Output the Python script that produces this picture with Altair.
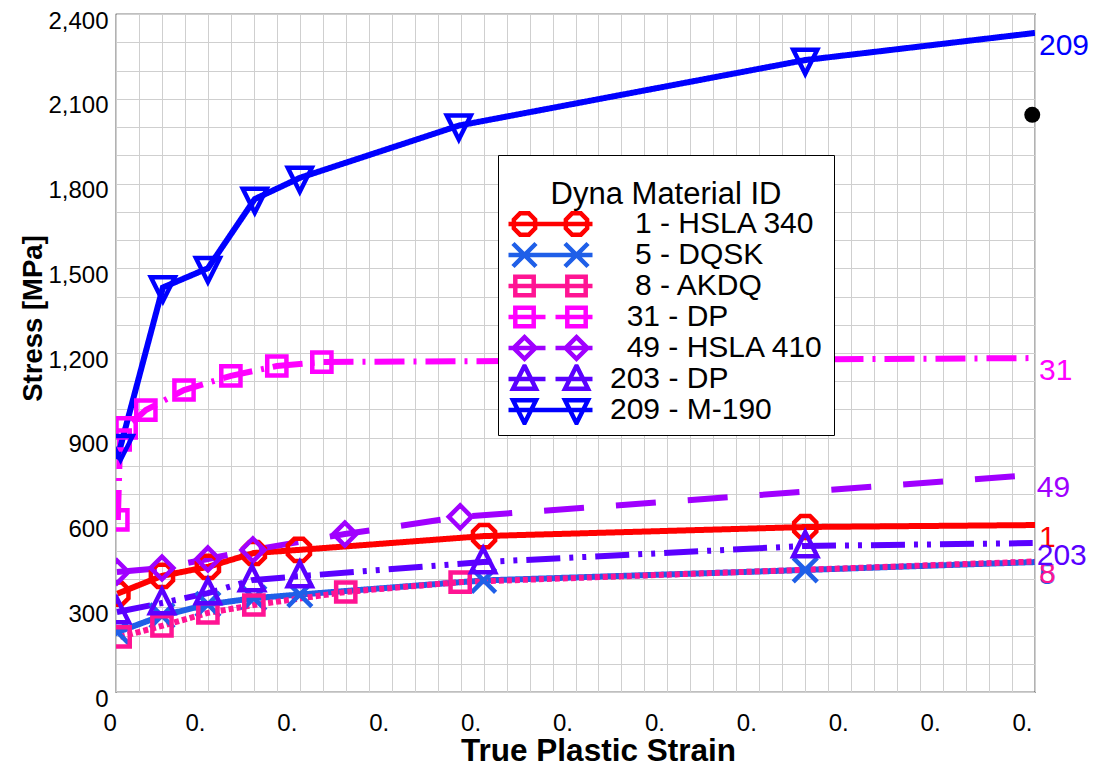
import altair as alt
import pandas as pd

# ---------------- data ----------------
XMAX = 0.2
YMAX = 2400

ids = ["1", "5", "8", "31", "49", "203", "209"]
names = ["1 - HSLA 340", "5 - DQSK", "8 - AKDQ", "31 - DP", "49 - HSLA 410", "203 - DP", "209 - M-190"]
colors = ["#FF0000", "#1F5FE8", "#FF1493", "#FF00FF", "#A000FF", "#5A00FF", "#0000FF"]

strain_1 = [0.0003, 0.01, 0.02, 0.03, 0.0398, 0.0801, 0.15, 0.2]
stress_1 = [348, 411, 443, 492, 503, 552, 584, 591]
mark_1 = [1, 1, 1, 1, 1, 1, 1, 0]

strain_5 = [0.0003, 0.01, 0.02, 0.03, 0.04, 0.08, 0.15, 0.2]
stress_5 = [212, 270, 310, 332, 345, 395, 432, 460]
mark_5 = [1, 1, 1, 1, 1, 1, 1, 0]

strain_8 = [0.0009, 0.01, 0.02, 0.03, 0.05, 0.0749, 0.2]
stress_8 = [195, 234, 280, 308, 354, 389, 462]
mark_8 = [1, 1, 1, 1, 1, 1, 0]

strain_31 = [0.0004, 0.0009, 0.0022, 0.0065, 0.0148, 0.025, 0.035, 0.0448, 0.2]
stress_31 = [609, 892, 935, 998, 1069, 1119, 1154, 1168, 1182]
mark_31 = [1, 1, 1, 1, 1, 1, 1, 1, 0]

strain_49 = [0.0002, 0.01, 0.02, 0.0298, 0.0498, 0.0749, 0.1995]
stress_49 = [425, 439, 471, 503, 559, 620, 768]
mark_49 = [1, 1, 1, 1, 1, 1, 0]

strain_203 = [0.0002, 0.01, 0.02, 0.0296, 0.04, 0.0799, 0.15, 0.1995]
stress_203 = [283, 315, 350, 396, 410, 460, 517, 527]
mark_203 = [1, 1, 1, 1, 1, 1, 1, 0]

strain_209 = [0.0, 0.001, 0.0102, 0.02, 0.0302, 0.04, 0.0746, 0.15, 0.2]
stress_209 = [825, 870, 1432, 1500, 1745, 1820, 2005, 2237, 2333]
mark_209 = [0, 1, 1, 1, 1, 1, 1, 1, 0]

dot_strain = [0.1994]
dot_stress = [2043]

all_strain = [strain_1, strain_5, strain_8, strain_31, strain_49, strain_203, strain_209]
all_stress = [stress_1, stress_5, stress_8, stress_31, stress_49, stress_203, stress_209]
all_mark = [mark_1, mark_5, mark_8, mark_31, mark_49, mark_203, mark_209]

rows = []
for sid, nm, xs, ys, ms in zip(ids, names, all_strain, all_stress, all_mark):
    for i, (x, y, m) in enumerate(zip(xs, ys, ms)):
        rows.append({"sid": sid, "name": nm, "strain": x, "stress": y,
                     "mark": m, "end": int(i == len(xs) - 1), "order": i})
df = pd.DataFrame(rows)
dot_df = pd.DataFrame({"strain": dot_strain, "stress": dot_stress})

# ---------------- styles ----------------
FONT = "Liberation Sans"
LW = 6
dashes = {"1": [1, 0], "5": [1, 0], "8": [5, 3], "31": [30, 9, 3, 9],
          "49": [40, 32], "203": [34, 9, 4, 9, 4, 9], "209": [1, 0]}

OCT = [(0.383, -0.924), (0.924, -0.383), (0.924, 0.383), (0.383, 0.924),
       (-0.383, 0.924), (-0.924, 0.383), (-0.924, -0.383), (-0.383, -0.924)]
SQR = [(-0.8, -0.8), (0.8, -0.8), (0.8, 0.8), (-0.8, 0.8)]
DIA = [(0, -0.95), (0.95, 0), (0, 0.95), (-0.95, 0)]
TUP = [(0, -1.15), (1.0, 0.85), (-1.0, 0.85)]
TDN = [(0, 1.15), (1.0, -0.85), (-1.0, -0.85)]
XSEG = [[(-1, -1), (1, 1)], [(-1, 1), (1, -1)]]


def poly(pts, s=1.0, dx=0.0):
    return "M" + "L".join(f"{x * s + dx:.3f},{y * s:.3f}" for x, y in pts) + "Z"


def segs(sg, s=1.0, dx=0.0):
    return "".join("M" + "L".join(f"{x * s + dx:.3f},{y * s:.3f}" for x, y in seg) for seg in sg)


def marker(kind, s=1.0, dx=0.0):
    if kind == "x":
        return segs(XSEG, s, dx)
    return poly({"oct": OCT, "sq": SQR, "dia": DIA, "tup": TUP, "tdn": TDN}[kind], s, dx)


kinds = {"1": "oct", "5": "x", "8": "sq", "31": "sq", "49": "dia", "203": "tup", "209": "tdn"}
MSIZE = 576  # marker radius 12 px

# legend symbols: line + two markers (px -> legend units)
LEG_SIZE = 784
lr = (LEG_SIZE ** 0.5) / 2.0
gap = {"31": True, "49": True, "203": True}


def leg_path(sid):
    u = 1.0 / lr
    if gap.get(sid):
        line = segs([[(-42, 0), (-5, 0)], [(5, 0), (42, 0)]], u)
    else:
        line = segs([[(-42, 0), (42, 0)]], u)
    m = 11.5 * u
    return line + marker(kinds[sid], m, -26 * u) + marker(kinds[sid], m, 26 * u)


leg_paths = [leg_path(s) for s in ids]

# ---------------- axes ----------------
xvals = [round(i * 0.005, 4) for i in range(41)]
yvals = list(range(0, 2401, 100))

xaxis = alt.Axis(
    values=xvals, grid=True, ticks=False, domain=False, gridColor="#CFCFCF", gridWidth=1,
    labelExpr="round(datum.value*200) % 4 == 0 ? (datum.value == 0 ? '0' : '0.') : ''",
    labelFontSize=24, labelFont=FONT, labelColor="black", labelPadding=19,
    labelBaseline="top", labelOffset=-13, labelFlush=False, labelOverlap=False,
    labelAlign={"condition": {"test": "datum.value == 0", "value": "left"}, "value": "center"},
    title="True Plastic Strain", titleFontSize=31.5, titleFont=FONT, titleFontWeight="bold",
    titleColor="black", titleX=482, titleY=68, titleAlign="center", titleBaseline="alphabetic",
)
yaxis = alt.Axis(
    values=yvals, grid=True, ticks=False, domain=False, gridColor="#CFCFCF", gridWidth=1,
    labelExpr="datum.value % 300 == 0 ? format(datum.value, ',') : ''",
    labelFontSize=24, labelFont=FONT, labelColor="black", labelPadding=8,
    labelOffset=7, labelOverlap=False, labelFlush=False,
    title="Stress [MPa]", titleFontSize=27.5, titleFont=FONT, titleFontWeight="bold",
    titleColor="black", titleX=-75, titleY=304, titleAngle=270, titleAlign="center",
    titleBaseline="alphabetic",
)

xenc = alt.X("strain:Q", scale=alt.Scale(domain=[0, XMAX], nice=False, zero=False), axis=xaxis)
yenc = alt.Y("stress:Q", scale=alt.Scale(domain=[0, YMAX], nice=False), axis=yaxis)

base = alt.Chart(df)
layers = []

# lines
for sid, c in zip(ids, colors):
    layers.append(
        base.transform_filter(alt.datum.sid == sid)
        .mark_line(color=c, strokeWidth=LW, strokeDash=dashes[sid], clip=True, strokeCap="butt")
        .encode(x=xenc, y=yenc, order="order:Q")
    )

# markers
for sid, c in zip(ids, colors):
    layers.append(
        base.transform_filter((alt.datum.sid == sid) & (alt.datum.mark == 1))
        .mark_point(shape=marker(kinds[sid]), size=MSIZE, filled=False, color=c,
                    strokeWidth=4.5, opacity=1, clip=True)
        .encode(x=xenc, y=yenc)
    )

# end labels
for sid, c in zip(ids, colors):
    layers.append(
        base.transform_filter((alt.datum.sid == sid) & (alt.datum.end == 1))
        .mark_text(align="left", baseline="top", dx=4, dy=-2, fontSize=30, font=FONT, color=c)
        .encode(x=xenc, y=yenc, text="sid:N")
    )

# black dot
layers.append(
    alt.Chart(dot_df).mark_circle(size=256, color="black", opacity=1)
    .encode(x=xenc, y=yenc)
)

# legend layer (no marks, only the legend)
PAD_EXPR = ("'\u200b' + (indexof(datum.label,' -')==1 ? '\u00a0\u00a0\u00a0' : "
            "indexof(datum.label,' -')==2 ? '\u00a0\u00a0' : '') + datum.label")
leg = alt.Legend(
    title="Dyna Material ID", orient="none", legendX=382, legendY=141,
    titleFontSize=31, titleFontWeight="normal", titleColor="black", titleFont=FONT,
    titleAnchor="middle", titlePadding=13.25, titleLimit=1000,
    titleBaseline="line-top", titleLineHeight=61,
    labelFontSize=30, labelFont=FONT, labelColor="black", labelLimit=1000,
    labelExpr=PAD_EXPR,
    labelOffset=43, symbolOffset=26, symbolSize=LEG_SIZE, symbolStrokeWidth=4.5,
    padding=10, strokeColor="black", fillColor="white", rowPadding=0, clipHeight=29.5,
)
layers.append(
    base.transform_filter("false")
    .mark_point(filled=False, strokeWidth=4.5, opacity=1)
    .encode(
        x=xenc, y=yenc,
        color=alt.Color("name:N", scale=alt.Scale(domain=names, range=colors), legend=leg),
        shape=alt.Shape("name:N", scale=alt.Scale(domain=names, range=leg_paths), legend=leg),
    )
)

chart = alt.layer(*layers).properties(
    width=919, height=678,
    autosize=alt.AutoSizeParams(type="none"),
    padding={"left": 116, "top": 14, "right": 58, "bottom": 75},
).configure(font=FONT).configure_view(stroke="black", strokeWidth=1.2)

chart.save("out.html", embed_options={"renderer": "svg", "actions": False})
